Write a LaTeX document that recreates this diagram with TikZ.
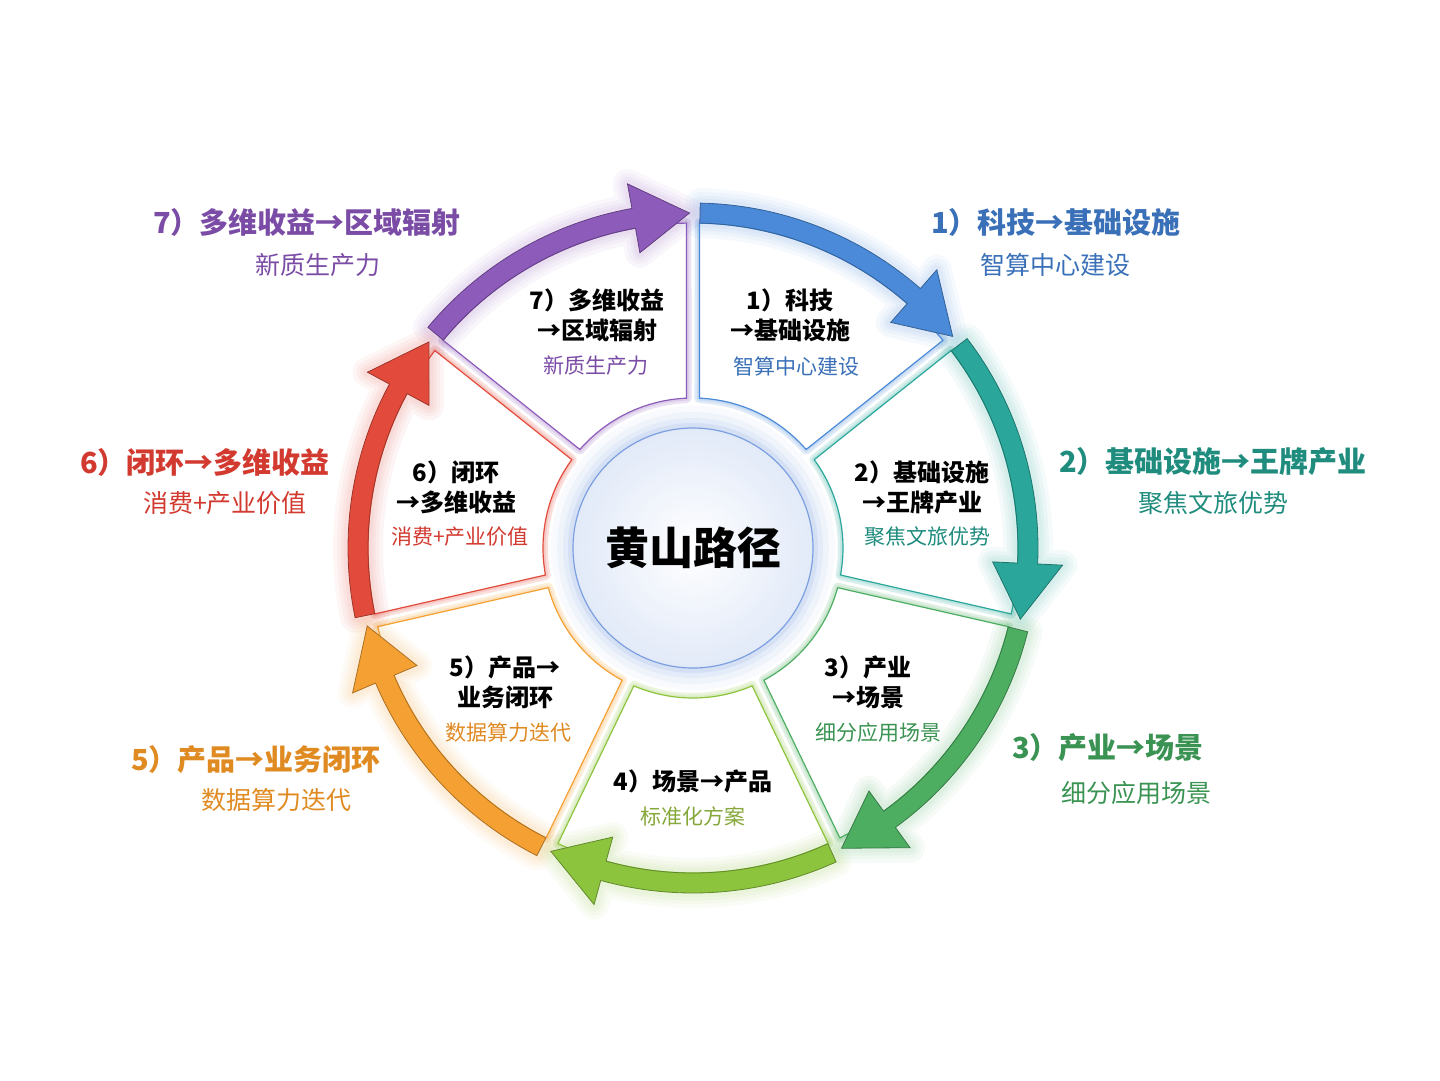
\documentclass[tikz,border=0pt]{standalone}
\usepackage{fontspec}
\setmainfont{Noto Sans CJK SC}
\usetikzlibrary{positioning}
\definecolor{cone}{HTML}{4A8AD8}   \definecolor{tone}{HTML}{3A70B8}
\definecolor{ctwo}{HTML}{2AA79A}   \definecolor{ttwo}{HTML}{1F8C7E}
\definecolor{cthree}{HTML}{4DAE62} \definecolor{tthree}{HTML}{3A9352}
\definecolor{cfour}{HTML}{8CC43E}  \definecolor{tfour}{HTML}{86A83A}
\definecolor{cfive}{HTML}{F4A032}  \definecolor{tfive}{HTML}{E08A22}
\definecolor{csix}{HTML}{E24B3C}   \definecolor{tsix}{HTML}{D23A30}
\definecolor{cseven}{HTML}{8D5BBA} \definecolor{tseven}{HTML}{7B4CA6}
\definecolor{hub}{HTML}{7B9FE0}

\begin{document}
\begin{tikzpicture}[x=1pt, y=1pt,
    outtitle/.style={font=\bfseries\fontsize{29}{32}\selectfont},
    outsub/.style={font=\fontsize{25}{30}\selectfont},
    intitle/.style={font=\bfseries\fontsize{24}{30}\selectfont, align=center},
    insub/.style={font=\fontsize{21}{24}\selectfont}]
  \useasboundingbox (0,0) rectangle (1440,-1080);
  \begin{scope}[shift={(693,-548)}]
    % wedges
    \foreach \i/\c in {1/cone,2/ctwo,3/cthree,4/cfour,5/cfive,6/csix,7/cseven} {
      \pgfmathsetmacro\s{90-(\i-1)*360/7}
      \pgfmathsetmacro\e{\s-360/7}
      \def\wedge{(\s-1.15:325) arc[start angle=\s-1.15, end angle=\e+1.15, radius=325]
        -- (\e+2.48:150) arc[start angle=\e+2.48, end angle=\s-2.48, radius=150] -- cycle}
      \path[draw=\c!18, line width=10pt, line join=round] \wedge;
      \path[draw=\c!30, line width=5pt, line join=round] \wedge;
      \path[fill=white, draw=\c, line width=1.2pt, line join=round] \wedge;
    }
    % hub
    \foreach \r/\o in {142/0.05,136/0.07,130/0.10,125/0.14}
      \fill[hub, opacity=\o] (0,0) circle (\r);
    \path[inner color=white, outer color=hub!22, draw=hub, line width=1.2pt] (0,0) circle (120);
    \node[font=\bfseries\fontsize{44}{48}\selectfont] (hub) at (0,0) {黄山路径};
    % arrows
    \foreach \i/\c in {1/cone,2/ctwo,3/cthree,4/cfour,5/cfive,6/csix,7/cseven} {
      \pgfmathsetmacro\s{90-(\i-1)*360/7}
      \pgfmathsetmacro\a{\s-1.2}
      \pgfmathsetmacro\b{\s-360/7+0.6}
      \pgfmathsetmacro\h{\b+9.6}
      \def\arrowpath{(\a:325) arc[start angle=\a, end angle=\h, radius=325] -- (\h:300)
        -- (\b:335) -- (\h:370) -- (\h:345) arc[start angle=\h, end angle=\a, radius=345] -- cycle}
      \foreach \w in {30,22,15,9}
        \path[draw=\c, opacity=0.05, line width=\w pt, line join=round] \arrowpath;
      \path[fill=\c, draw=\c!70!black, line width=0.8pt] \arrowpath;
    }
  \end{scope}
  % inner labels
  \node[intitle] (i1) at (790,-315) {1）科技\\→基础设施};
  \node[insub, text=tone] (j1) at (796,-366) {智算中心建设};
  \node[intitle] (i2) at (922,-487) {2）基础设施\\→王牌产业};
  \node[insub, text=ttwo] (j2) at (927,-537) {聚焦文旅优势};
  \node[intitle] (i3) at (868,-682) {3）产业\\→场景};
  \node[insub, text=tthree] (j3) at (878,-732) {细分应用场景};
  \node[intitle] (i4) at (693,-781) {4）场景→产品};
  \node[insub, text=tfour] (j4) at (693,-816) {标准化方案};
  \node[intitle] (i5) at (505,-682) {5）产品→\\业务闭环};
  \node[insub, text=tfive] (j5) at (508,-732) {数据算力迭代};
  \node[intitle] (i6) at (456,-487) {6）闭环\\→多维收益};
  \node[insub, text=tsix] (j6) at (460,-537) {消费+产业价值};
  \node[intitle] (i7) at (597,-315) {7）多维收益\\→区域辐射};
  \node[insub, text=tseven] (j7) at (596,-366) {新质生产力};
  % outer labels
  \node[outtitle, text=tone] (o1) at (1056,-222) {1）科技→基础设施};
  \node[outsub, text=tone] (p1) at (1055,-265) {智算中心建设};
  \node[outtitle, text=ttwo] (o2) at (1213,-462) {2）基础设施→王牌产业};
  \node[outsub, text=ttwo] (p2) at (1213,-503) {聚焦文旅优势};
  \node[outtitle, text=tthree] (o3) at (1108,-748) {3）产业→场景};
  \node[outsub, text=tthree] (p3) at (1136,-793) {细分应用场景};
  \node[outtitle, text=tfive] (o5) at (256,-760) {5）产品→业务闭环};
  \node[outsub, text=tfive] (p5) at (276,-800) {数据算力迭代};
  \node[outtitle, text=tsix] (o6) at (205,-462) {6）闭环→多维收益};
  \node[outsub, text=tsix] (p6) at (225,-503) {消费+产业价值};
  \node[outtitle, text=tseven] (o7) at (307,-222) {7）多维收益→区域辐射};
  \node[outsub, text=tseven] (p7) at (318,-265) {新质生产力};
\end{tikzpicture}
\end{document}
